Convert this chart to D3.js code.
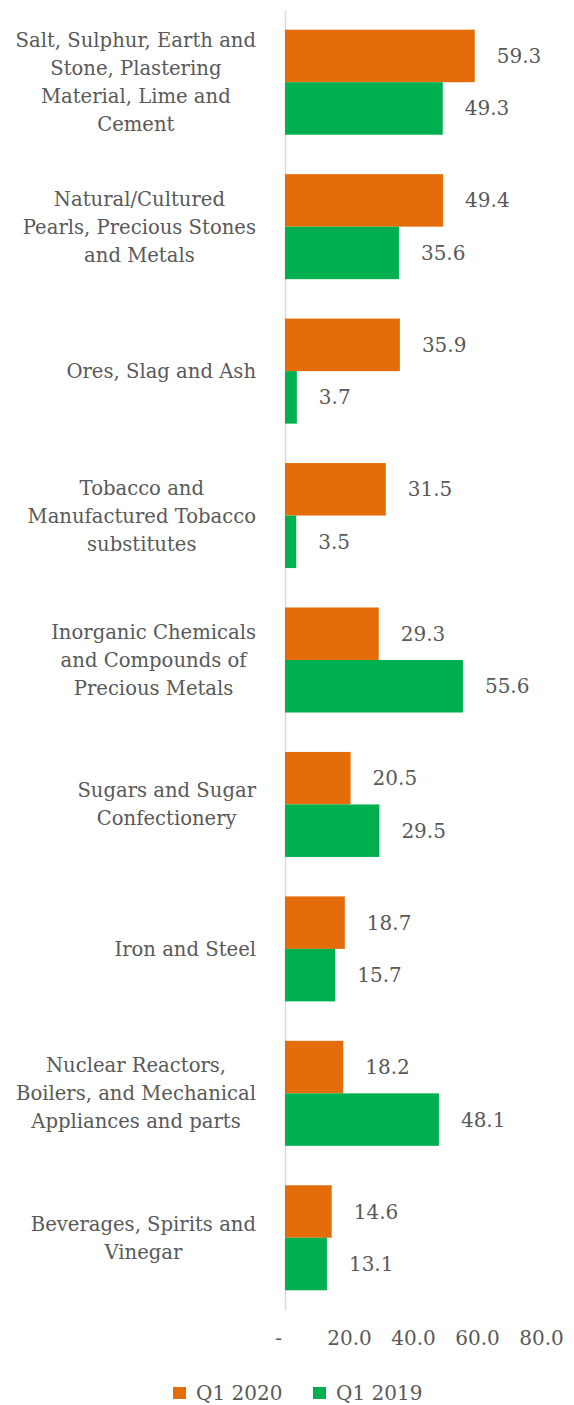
<!DOCTYPE html>
<html>
<head>
<meta charset="utf-8">
<script src="https://cdn.jsdelivr.net/npm/d3@7"></script>
<style>
  body { margin: 0; background: #fff; }
  svg text { font-family: "DejaVu Serif", serif; fill: #595959; }
</style>
</head>
<body>
<main></main>
<script>
// categorias (una linea por elemento)
const categorias = [
    ['Salt, Sulphur, Earth and', 'Stone, Plastering', 'Material, Lime and', 'Cement'],
    ['Natural/Cultured', 'Pearls, Precious Stones', 'and Metals'],
    ['Ores, Slag and Ash'],
    ['Tobacco and', 'Manufactured Tobacco', 'substitutes'],
    ['Inorganic Chemicals', 'and Compounds of', 'Precious Metals'],
    ['Sugars and Sugar', 'Confectionery'],
    ['Iron and Steel'],
    ['Nuclear Reactors,', 'Boilers, and Mechanical', 'Appliances and parts'],
    ['Beverages, Spirits and', 'Vinegar']
];
const series = ['Q1 2020', 'Q1 2019'];
const valores2020 = [59.3, 49.4, 35.9, 31.5, 29.3, 20.5, 18.7, 18.2, 14.6];
const valores2019 = [49.3, 35.6, 3.7, 3.5, 55.6, 29.5, 15.7, 48.1, 13.1];
const ticksX = [0, 20, 40, 60, 80];
const colores = ['#E46C0A', '#00B050'];

var w = 574, h = 1405;

const datos = categorias.map((c, i) => ({ id: i, lineas: c, valores: [valores2020[i], valores2019[i]] }));

var svg = d3.select('main')
    .append('svg')
    .attr('width', w)
    .attr('height', h);

//Escalas
const xScale = d3.scaleLinear().domain([0, 80]).range([285, 541]);

const yScale = d3.scaleBand()
    .domain(datos.map((d) => d.id))
    .range([10, 1310])
    .paddingInner(0.273)
    .paddingOuter(0.1365);

const ySub = d3.scaleBand()
    .domain([0, 1])
    .range([0, yScale.bandwidth()]);

//Eje Y (linea vertical y etiquetas)
const yAxis = d3.axisLeft(yScale).tickSize(0).tickPadding(29).tickFormat('');

const gy = svg.append('g')
    .attr('transform', 'translate(' + xScale(0) + ',0)')
    .call(yAxis);

gy.select('.domain').attr('stroke', '#D9D9D9').attr('stroke-width', 1.5);

// bloque alineado a la derecha, lineas centradas dentro del bloque
gy.selectAll('.tick text')
    .attr('font-size', 19.6)
    .attr('font-family', null)
    .each(function (id) {
        const lineas = datos[id].lineas;
        const t = d3.select(this);
        t.attr('dy', null).attr('text-anchor', 'middle');
        const spans = lineas.map((l, k) => t.append('tspan')
            .attr('dy', k === 0 ? (-(lineas.length - 1) * 28 / 2 + 7) : 28)
            .text(l));
        const ancho = d3.max(spans, (s) => s.node().getComputedTextLength());
        spans.forEach((s) => s.attr('x', -29 - ancho / 2));
    });

//Barras
const grupos = svg.selectAll('.grupo')
    .data(datos)
    .enter()
    .append('g')
    .attr('class', 'grupo')
    .attr('transform', (d) => 'translate(0,' + yScale(d.id) + ')');

grupos.selectAll('rect')
    .data((d) => d.valores)
    .enter()
    .append('rect')
    .attr('x', xScale(0))
    .attr('y', (d, i) => ySub(i))
    .attr('width', (d) => xScale(d) - xScale(0))
    .attr('height', ySub.bandwidth())
    .attr('fill', (d, i) => colores[i]);

grupos.selectAll('.valor')
    .data((d) => d.valores)
    .enter()
    .append('text')
    .attr('class', 'valor')
    .attr('x', (d) => xScale(d) + 22)
    .attr('y', (d, i) => ySub(i) + ySub.bandwidth() / 2)
    .attr('dy', '0.35em')
    .attr('font-size', 20)
    .text((d) => d3.format('.1f')(d));

//Eje X
const xAxis = d3.axisBottom(xScale)
    .tickValues(ticksX)
    .tickSize(0)
    .tickPadding(0)
    .tickFormat((d) => d === 0 ? '-' : d3.format('.1f')(d));

const gx = svg.append('g')
    .attr('transform', 'translate(0,1331)')
    .call(xAxis);

gx.select('.domain').remove();
gx.selectAll('.tick text')
    .attr('font-size', 20)
    .attr('font-family', null)
    .attr('fill', null)
    .attr('dx', (d) => d === 0 ? -7 : 0);

//Leyenda
const leyenda = svg.append('g').attr('transform', 'translate(0,1393)');
const posLeyenda = [173, 313];

leyenda.selectAll('rect')
    .data(series)
    .enter()
    .append('rect')
    .attr('x', (d, i) => posLeyenda[i])
    .attr('y', -6)
    .attr('width', 13)
    .attr('height', 12)
    .attr('fill', (d, i) => colores[i]);

leyenda.selectAll('text')
    .data(series)
    .enter()
    .append('text')
    .attr('x', (d, i) => posLeyenda[i] + 23)
    .attr('y', 0)
    .attr('dy', '0.35em')
    .attr('font-size', 20)
    .text((d) => d);
</script>
</body>
</html>
